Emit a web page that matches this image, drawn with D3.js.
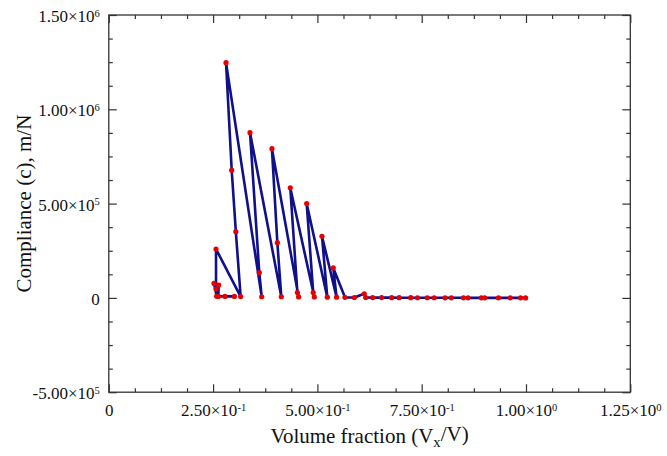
<!DOCTYPE html>
<html>
<head>
<meta charset="utf-8">
<script src="https://cdn.jsdelivr.net/npm/d3@7"></script>
<style>
  body { margin: 0; background: #fff; }
  text { font-family: "Liberation Serif", "Times New Roman", serif; fill: #111; }
</style>
</head>
<body>
<div id="chart"></div>
<script>
// Data (path order of the line)
const volumeFraction = [0.301, 0.2785, 0.2625, 0.2634, 0.2586, 0.2522, 0.257, 0.257, 0.316, 0.3045,
  0.2946, 0.281, 0.3665, 0.3607, 0.3385, 0.4135, 0.404, 0.391, 0.455, 0.452,
  0.435, 0.4926, 0.490, 0.4743, 0.5237, 0.511, 0.546, 0.538, 0.566, 0.5885,
  0.6124, 0.6158, 0.6325, 0.654, 0.678, 0.696, 0.7236, 0.740, 0.7634, 0.780,
  0.806, 0.821, 0.850, 0.861, 0.893, 0.901, 0.934, 0.962, 0.987, 0.999];
const compliance = [8e3, 8e3, 8e3, 6.8e4, 9e3, 7.7e4, 4.7e4, 2.59e5, 7e3, 3.51e5,
  6.77e5, 1.247e6, 6e3, 1.34e5, 8.76e5, 6e3, 2.93e5, 7.91e5, 5e3, 2.8e4,
  5.84e5, 5e3, 2.8e4, 5.0e5, 4e3, 3.27e5, 4e3, 1.59e5, 3e3, 2e3,
  2.2e4, 2e3, 1.5e3, 1.5e3, 1200, 1100, 1000, 900, 800, 700,
  600, 500, 450, 400, 350, 300, 250, 200, 150, 100];

// Axis ticks
const xTicks = [0, 0.25, 0.5, 0.75, 1.0, 1.25];
const yTicks = [-5e5, 0, 5e5, 1e6, 1.5e6];
const xTitle = ["Volume fraction (V", "x", "/V)"];
const yTitle = "Compliance (c), m/N";

const width = 667, height = 456;
const margin = { top: 15, right: 36.7, bottom: 63.8, left: 108.8 };
const w = width - margin.left - margin.right;
const h = height - margin.top - margin.bottom;

const svg = d3.select("#chart").append("svg")
  .attr("width", width)
  .attr("height", height);

const g = svg.append("g")
  .attr("transform", `translate(${margin.left},${margin.top})`);

const x = d3.scaleLinear().domain([0, 1.25]).range([0, w]);
const y = d3.scaleLinear().domain([-5e5, 1.5e6]).range([h, 0]);

const xMinor = d3.range(0, 1.25, 0.0625).filter(v => !xTicks.some(t => Math.abs(t - v) < 1e-9));
const yMinor = d3.range(-5e5, 1.5e6, 1.25e5).filter(v => !yTicks.some(t => Math.abs(t - v) < 1e-3));

// scientific label: mantissa x 10^exp
function sciLabel(sel, d) {
  sel.text(null);
  if (d === 0) { sel.text("0"); return; }
  const e = Math.floor(Math.log10(Math.abs(d)) + 1e-9);
  const m = (d / Math.pow(10, e)).toFixed(2);
  sel.append("tspan").text(m + "\u00d710");
  sel.append("tspan").attr("dy", "-0.5em").attr("font-size", "0.62em").text(e);
}

function styleAxis(sel) {
  sel.select(".domain").remove();
  sel.selectAll("line").attr("stroke", "#333").attr("stroke-width", 1.2);
  sel.selectAll("text").attr("font-size", 17).attr("font-family", "Liberation Serif, serif").attr("fill", "#111");
}

// bottom
const gx = g.append("g").attr("transform", `translate(0,${h})`)
  .call(d3.axisBottom(x).tickValues(xTicks).tickSizeInner(-8).tickSizeOuter(0).tickPadding(12));
gx.call(styleAxis);
gx.selectAll(".tick text").each(function(d) { sciLabel(d3.select(this), d); });
g.append("g").attr("transform", `translate(0,${h})`)
  .call(d3.axisBottom(x).tickValues(xMinor).tickSizeInner(-4).tickSizeOuter(0).tickFormat(""))
  .call(styleAxis);

// top
g.append("g").call(d3.axisTop(x).tickValues(xTicks).tickSizeInner(-8).tickSizeOuter(0).tickFormat("")).call(styleAxis);
g.append("g").call(d3.axisTop(x).tickValues(xMinor).tickSizeInner(-4).tickSizeOuter(0).tickFormat("")).call(styleAxis);

// left
const gy = g.append("g")
  .call(d3.axisLeft(y).tickValues(yTicks).tickSizeInner(-8).tickSizeOuter(0).tickPadding(9));
gy.call(styleAxis);
gy.selectAll(".tick text").attr("dy", "0.38em").each(function(d) { sciLabel(d3.select(this), d); });
g.append("g").call(d3.axisLeft(y).tickValues(yMinor).tickSizeInner(-4).tickSizeOuter(0).tickFormat("")).call(styleAxis);

// right
g.append("g").attr("transform", `translate(${w},0)`)
  .call(d3.axisRight(y).tickValues(yTicks).tickSizeInner(-8).tickSizeOuter(0).tickFormat("")).call(styleAxis);
g.append("g").attr("transform", `translate(${w},0)`)
  .call(d3.axisRight(y).tickValues(yMinor).tickSizeInner(-4).tickSizeOuter(0).tickFormat("")).call(styleAxis);

// frame
g.append("rect")
  .attr("x", 0).attr("y", 0)
  .attr("width", w).attr("height", h)
  .attr("fill", "none")
  .attr("stroke", "#333")
  .attr("stroke-width", 1.3);

// data
const points = volumeFraction.map((v, i) => [v, compliance[i]]);

const line = d3.line()
  .x(d => x(d[0]))
  .y(d => y(d[1]));

g.append("path")
  .datum(points)
  .attr("d", line)
  .attr("fill", "none")
  .attr("stroke", "#10108a")
  .attr("stroke-width", 2.6)
  .attr("stroke-linejoin", "round");

g.selectAll("circle")
  .data(points)
  .enter().append("circle")
  .attr("cx", d => x(d[0]))
  .attr("cy", d => y(d[1]))
  .attr("r", 2.6)
  .attr("fill", "#e60000");

// axis titles
const xt = svg.append("text")
  .attr("x", margin.left + w / 2)
  .attr("y", 443)
  .attr("text-anchor", "middle")
  .attr("font-size", 21);
xt.append("tspan").text(xTitle[0]);
xt.append("tspan").attr("dy", "0.3em").attr("font-size", "0.7em").text(xTitle[1]);
xt.append("tspan").attr("dy", "-0.3em").text(xTitle[2]);

svg.append("text")
  .attr("transform", `translate(31,${margin.top + h / 2}) rotate(-90)`)
  .attr("text-anchor", "middle")
  .attr("font-size", 21)
  .text(yTitle);
</script>
</body>
</html>
